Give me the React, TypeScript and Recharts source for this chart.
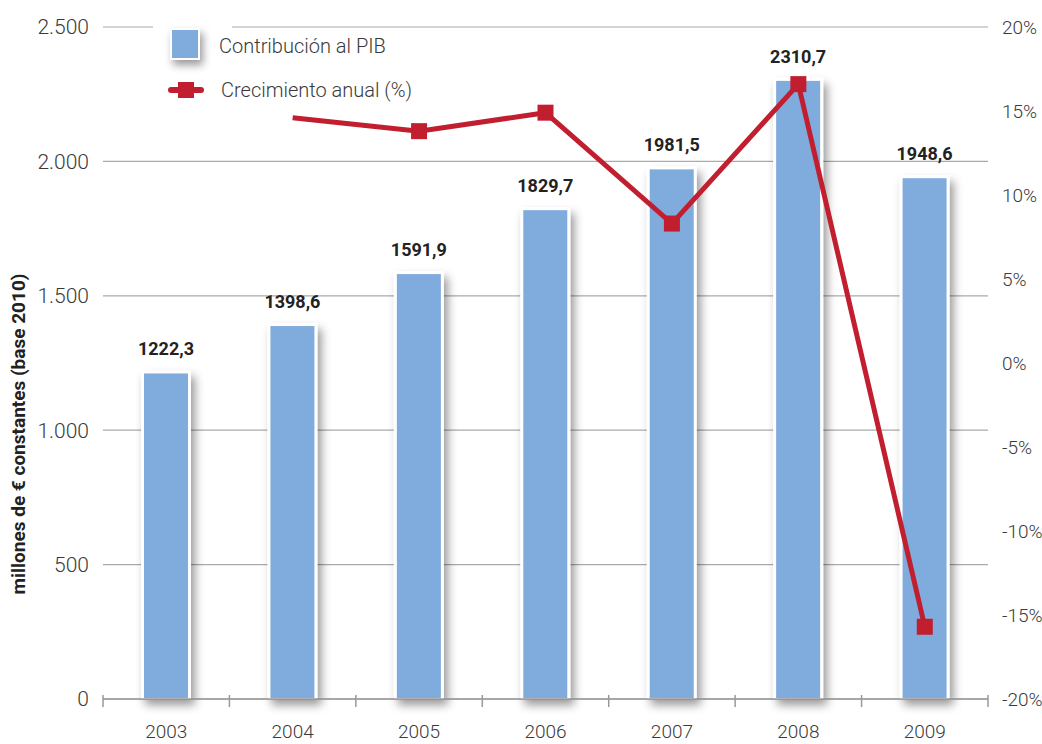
import React from 'react'
import {
  ComposedChart,
  Bar,
  Line,
  XAxis,
  YAxis,
  CartesianGrid,
  LabelList,
  Legend
} from 'recharts'

// datos
const years = ['2003', '2004', '2005', '2006', '2007', '2008', '2009']
const contribucion = [1222.3, 1398.6, 1591.9, 1829.7, 1981.5, 2310.7, 1948.6]
const crecimiento = [null, 14.6, 13.8, 14.9, 8.3, 16.6, -15.7]
const leftTicks = [0, 500, 1000, 1500, 2000, 2500]
const rightTicks = [-20, -15, -10, -5, 0, 5, 10, 15, 20]

const data = years.map((year, i) => ({
  year,
  pib: contribucion[i],
  growth: crecimiento[i]
}))

const W = 1042
const H = 744
const LEFT_W = 103
const RIGHT_W = 54
const BAND = (W - LEFT_W - RIGHT_W) / years.length

const FONT = 'Roboto, "Noto Sans", sans-serif'
const BLUE = '#80abdd'
const RED = '#c11f30'
const TEXT = '#3a3a3a'

const fmtMiles = (v: number) =>
  v >= 1000 ? `${Math.floor(v / 1000)}.${String(v % 1000).padStart(3, '0')}` : String(v)

const fmtDec = (v: any) => Number(v).toFixed(1).replace('.', ',')

const BarShape = (props: any) => {
  const { x, y, width, height } = props
  if (height == null || height <= 0) return null
  return (
    <g>
      <rect x={x} y={y} width={width} height={height} fill="#fff" filter="url(#barShadow)" />
      <rect x={x + 3} y={y + 3} width={width - 6} height={height - 4} fill={BLUE} />
    </g>
  )
}

const SquareDot = (props: any) => {
  const { cx, cy, index, value } = props
  // 2004 no lleva marcador en el original
  if (value == null || index === 1 || cx == null || cy == null) return <g key={`d-${index}`} />
  return <rect key={`d-${index}`} x={cx - 8} y={cy - 8} width={16} height={16} fill={RED} />
}

const XTick = (props: any) => {
  const { x, y, payload, index } = props
  const half = BAND / 2
  return (
    <g>
      <line x1={x - half} x2={x - half} y1={y - 6} y2={y + 6} stroke="#999" strokeWidth={1.5} />
      {index === years.length - 1 && (
        <line x1={x + half} x2={x + half} y1={y - 6} y2={y + 6} stroke="#999" strokeWidth={1.5} />
      )}
      <text x={x} y={y + 37} textAnchor="middle" fontSize={19} fontWeight={300} fill={TEXT} fontFamily={FONT}>
        {payload.value}
      </text>
    </g>
  )
}

const renderLegend = () => (
  <div style={{ position: 'relative', width: W, height: 110, fontFamily: FONT, color: TEXT, fontWeight: 300 }}>
    <div style={{ position: 'absolute', left: 153, top: 14, width: 79, height: 56, background: '#fff' }} />
    <div
      style={{
        position: 'absolute',
        left: 170,
        top: 28,
        width: 26,
        height: 28,
        background: BLUE,
        border: '2px solid #fff',
        boxShadow: '3px 5px 8px rgba(0,0,0,0.4)'
      }}
    />
    <div style={{ position: 'absolute', left: 219, top: 33, fontSize: 20, lineHeight: '26px' }}>
      Contribución al PIB
    </div>
    <div style={{ position: 'absolute', left: 168, top: 87, width: 36, height: 6, background: RED, borderRadius: 3 }} />
    <div style={{ position: 'absolute', left: 178, top: 82, width: 16, height: 16, background: RED }} />
    <div style={{ position: 'absolute', left: 221, top: 77, fontSize: 20, lineHeight: '26px' }}>
      Crecimiento anual (%)
    </div>
  </div>
)

const YTitle = () => (
  <text
    x={18}
    y={434}
    transform="rotate(-90 18 434)"
    textAnchor="middle"
    dominantBaseline="central"
    fontSize={19}
    fontWeight="bold"
    fill="#222"
    fontFamily={FONT}
  >
    millones de € constantes (base 2010)
  </text>
)

export default function App() {
  return (
    <div style={{ position: 'absolute', left: 0, top: 0, width: W, height: H, background: '#fff' }}>
      <ComposedChart
        width={W}
        height={H}
        data={data}
        margin={{ top: 27, right: 0, bottom: 0, left: 0 }}
      >
        <defs>
          <filter id="barShadow" x="-40%" y="-10%" width="200%" height="130%">
            <feDropShadow dx={4} dy={6} stdDeviation={5} floodColor="#000" floodOpacity={0.4} />
          </filter>
        </defs>
        <CartesianGrid yAxisId="left" vertical={false} stroke="#aaa" strokeWidth={1.2} />
        <XAxis
          dataKey="year"
          height={45}
          axisLine={{ stroke: '#999', strokeWidth: 1.5 }}
          tickLine={false}
          tickSize={0}
          tick={<XTick />}
          interval={0}
        />
        <YAxis
          yAxisId="left"
          width={LEFT_W}
          domain={[0, 2500]}
          ticks={leftTicks}
          axisLine={false}
          tickLine={false}
          tickSize={0}
          tickMargin={14}
          tickFormatter={fmtMiles}
          tick={{ fontSize: 21, fontWeight: 300, fill: TEXT, fontFamily: FONT }}
        />
        <YAxis
          yAxisId="right"
          orientation="right"
          width={RIGHT_W}
          domain={[-20, 20]}
          ticks={rightTicks}
          axisLine={false}
          tickLine={false}
          tickSize={0}
          tickMargin={14}
          tickFormatter={(v: number) => `${v}%`}
          tick={{ fontSize: 19, fontWeight: 300, fill: TEXT, fontFamily: FONT }}
        />
        <Legend
          content={renderLegend}
          layout="vertical"
          align="center"
          verticalAlign="middle"
          wrapperStyle={{ position: 'absolute', left: 0, top: 0, width: W, height: 110 }}
        />
        <Bar yAxisId="left" dataKey="pib" barSize={50} shape={<BarShape />} isAnimationActive={false}>
          <LabelList
            dataKey="pib"
            position="top"
            offset={15}
            formatter={fmtDec}
            style={{ fontSize: 18, fontWeight: 'bold', fill: '#222', fontFamily: FONT }}
          />
        </Bar>
        <Line
          yAxisId="right"
          dataKey="growth"
          stroke={RED}
          strokeWidth={5}
          dot={SquareDot}
          activeDot={false}
          connectNulls={false}
          isAnimationActive={false}
        />
        <YTitle />
      </ComposedChart>
    </div>
  )
}
